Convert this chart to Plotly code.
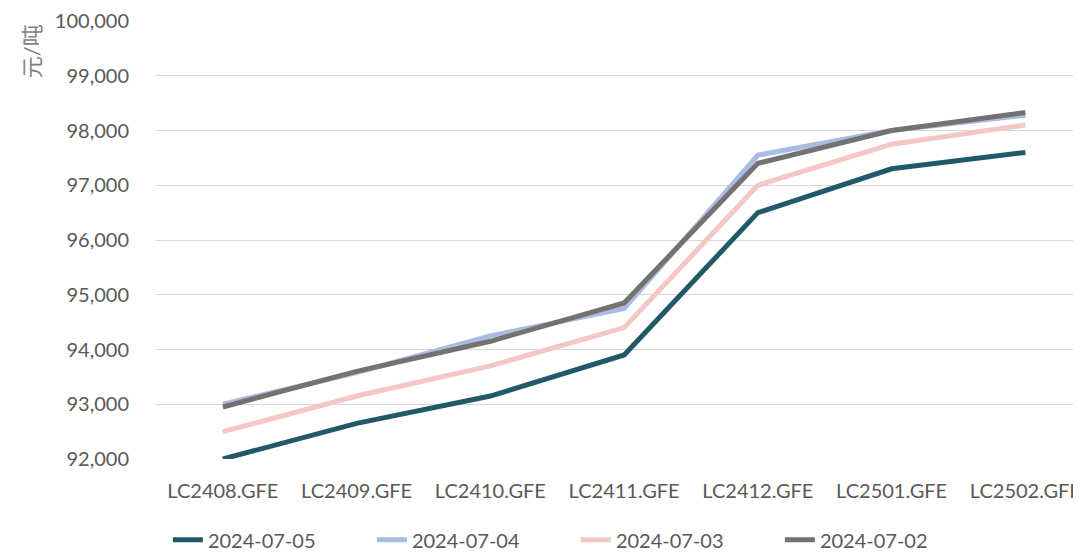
import plotly.graph_objects as go

categories = ["LC2408.GFE", "LC2409.GFE", "LC2410.GFE", "LC2411.GFE", "LC2412.GFE", "LC2501.GFE", "LC2502.GFE"]
s_0705 = [92000, 92650, 93150, 93900, 96500, 97300, 97600]
s_0704 = [93000, 93580, 94250, 94750, 97550, 98000, 98280]
s_0703 = [92500, 93150, 93700, 94400, 97000, 97750, 98100]
s_0702 = [92950, 93600, 94150, 94850, 97400, 98000, 98330]
series_names = ["2024-07-05", "2024-07-04", "2024-07-03", "2024-07-02"]
colors = ["#215968", "#a9bce1", "#f2c7c5", "#767171"]
ytick_vals = [92000, 93000, 94000, 95000, 96000, 97000, 98000, 99000, 100000]

FONT = "Lato, 'Noto Sans CJK SC', sans-serif"
fig = go.Figure()
for name, vals, c in zip(series_names, [s_0705, s_0704, s_0703, s_0702], colors):
    fig.add_trace(go.Scatter(x=list(range(len(categories))), y=vals, mode="lines", name=name,
                             line=dict(color=c, width=5)))

fig.update_layout(
    width=1073, height=546,
    margin=dict(l=148, r=0, t=13, b=95),
    paper_bgcolor="white", plot_bgcolor="white",
    font=dict(family=FONT, size=20, color="#595959"),
    showlegend=True,
    legend=dict(orientation="h", x=0.149, xanchor="left", y=0.026, yanchor="middle",
                xref="container", yref="container", font=dict(size=20, color="#595959"),
                entrywidth=159, entrywidthmode="pixels", tracegroupgap=0),
    xaxis=dict(tickmode="array", tickvals=list(range(len(categories))), ticktext=categories,
               range=[-0.5, 6.356], showgrid=False, zeroline=False, showline=False,
               ticks="", ticklabelstandoff=18, ticklabeloverflow="allow",
               tickfont=dict(size=20, color="#595959")),
    yaxis=dict(range=[92000, 100000], tickvals=ytick_vals, tickformat=",d",
               showgrid=True, gridcolor="#d9d9d9", gridwidth=1.3, zeroline=False,
               showline=False, ticks="", ticklabelstandoff=26,
               tickfont=dict(size=20, color="#595959")),
    annotations=[dict(text="元/吨", textangle=-90, xref="paper", yref="paper",
                      x=-0.136, y=1.0, xanchor="center", yanchor="top", showarrow=False,
                      font=dict(size=22, color="#7f7f7f"), yshift=-1)],
)
fig.write_html("out.html")
